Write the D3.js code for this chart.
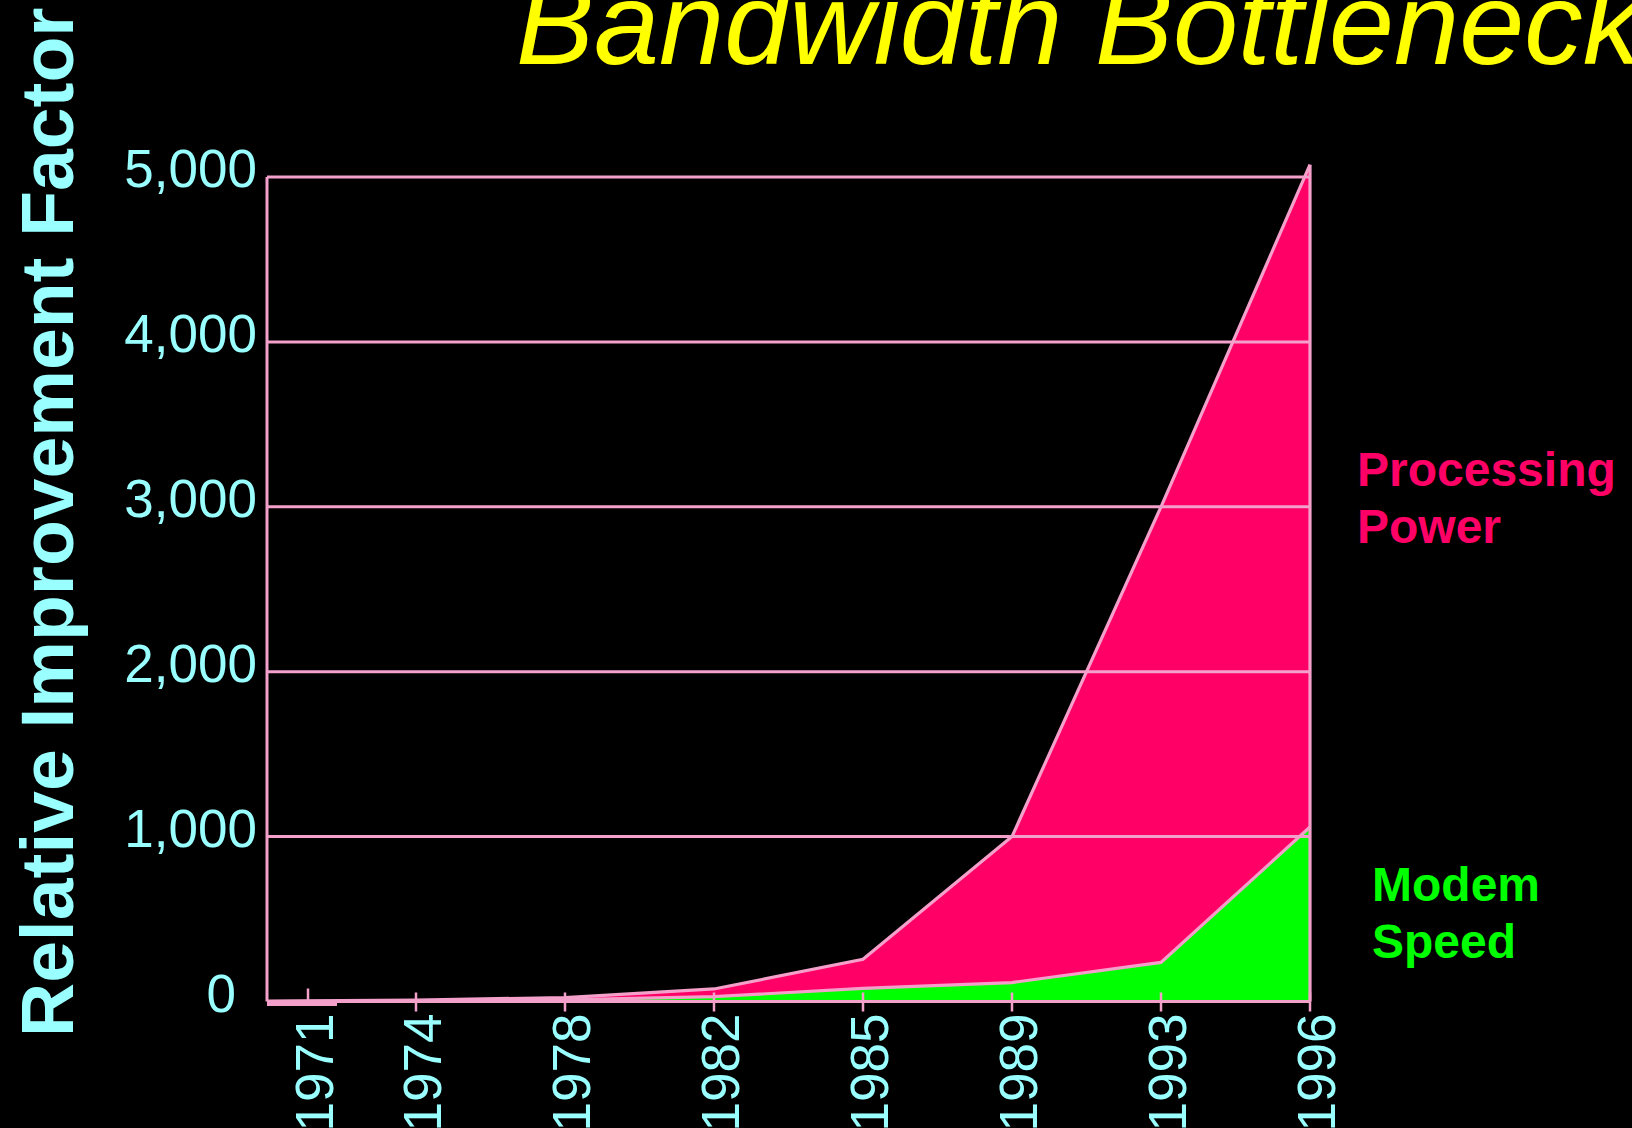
<!DOCTYPE html>
<html>
<head>
<meta charset="utf-8">
<script src="https://cdn.jsdelivr.net/npm/d3@7"></script>
<style>
  html, body { margin: 0; padding: 0; background: #000; }
  svg { display: block; }
  text { font-family: "Liberation Sans", Arial, sans-serif; }
</style>
</head>
<body>
<svg id="chart" width="1632" height="1128"></svg>
<script>
// Years on the category axis
const years = ["1971", "1974", "1978", "1982", "1985", "1989", "1993", "1996"];
// Relative improvement factor of processing power
const processingPower = [2, 9, 24, 76, 256, 1000, 3000, 5075];
// Relative improvement factor of modem speed
const modemSpeed = [0, 4, 10, 29, 80, 115, 237, 1058];
// Value axis ticks
const yTicks = [0, 1000, 2000, 3000, 4000, 5000];

const W = 1632, H = 1128;
const plot = { left: 267, right: 1310, top: 177, bottom: 1001.5 };

const PINK = "#FF0066";
const GREEN = "#00FF00";
const LINE = "#F3A0CB";
const CYAN = "#99FFFF";
const YELLOW = "#FFFF00";

const svg = d3.select("#chart");
svg.append("rect").attr("width", W).attr("height", H).attr("fill", "#000");

const x = d3.scalePoint().domain(years).range([plot.left, plot.right]).padding(0);
const y = d3.scaleLinear().domain([0, 5000]).range([plot.bottom, plot.top]);

const rowsPP = years.map((yr, i) => ({ year: yr, v: processingPower[i] }));
const rowsMS = years.map((yr, i) => ({ year: yr, v: modemSpeed[i] }));

const area = d3.area().x(d => x(d.year)).y0(y(0)).y1(d => y(d.v));
const line = d3.line().x(d => x(d.year)).y(d => y(d.v));

// Filled areas: processing power behind, modem speed in front
svg.append("path").datum(rowsPP).attr("d", area).attr("fill", PINK);
svg.append("path").datum(rowsMS).attr("d", area).attr("fill", GREEN);

// Horizontal gridlines
svg.append("g").selectAll("line").data(yTicks.filter(t => t > 0)).join("line")
  .attr("x1", plot.left).attr("x2", plot.right)
  .attr("y1", d => y(d)).attr("y2", d => y(d))
  .attr("stroke", LINE).attr("stroke-width", 3);

// Outlines of the two series, closed down the last category
[rowsPP, rowsMS].forEach(rows => {
  svg.append("path").datum(rows).attr("d", line)
    .attr("fill", "none").attr("stroke", LINE).attr("stroke-width", 3.2)
    .attr("stroke-linejoin", "miter");
});
const last = years[years.length - 1];
svg.append("line")
  .attr("x1", x(last)).attr("x2", x(last))
  .attr("y1", y(processingPower[processingPower.length - 1])).attr("y2", y(0))
  .attr("stroke", LINE).attr("stroke-width", 3.2);

// Axis lines
svg.append("line").attr("x1", plot.left).attr("x2", plot.left)
  .attr("y1", y(5000)).attr("y2", y(0)).attr("stroke", LINE).attr("stroke-width", 3);
svg.append("line").attr("x1", plot.left).attr("x2", plot.right)
  .attr("y1", y(0)).attr("y2", y(0)).attr("stroke", LINE).attr("stroke-width", 3.2);
// thick base segment under the first category
svg.append("line").attr("x1", x(years[0])).attr("x2", x(years[0]) + 70)
  .attr("y1", y(0) + 2).attr("y2", y(0) + 2).attr("stroke", LINE).attr("stroke-width", 5);

// Value labels (the zero label sits a little further left)
const fmt = d3.format(",");
svg.append("g").selectAll("text").data(yTicks).join("text")
  .attr("x", d => plot.left - (d === 0 ? 31 : 10)).attr("y", d => y(d) + 10)
  .attr("text-anchor", "end").attr("font-size", 53).attr("fill", CYAN)
  .text(d => fmt(d));

// Category ticks and labels; the first label sits inside the plot edge
const firstNudge = 41;
const xPos = (d, i) => x(d) + (i === 0 ? firstNudge : 0);
svg.append("g").selectAll("line").data(years).join("line")
  .attr("x1", xPos).attr("x2", xPos)
  .attr("y1", (d, i) => y(0) - (i === 0 ? 13 : 9))
  .attr("y2", (d, i) => y(0) + (i === 0 ? 0 : 10))
  .attr("stroke", LINE).attr("stroke-width", 2.5);
svg.append("g").selectAll("text").data(years).join("text")
  .attr("transform", (d, i) => `translate(${xPos(d, i)},${y(0) + 12}) rotate(-90)`)
  .attr("dy", 25)
  .attr("text-anchor", "end").attr("font-size", 53).attr("fill", CYAN)
  .text(d => d);

// Value axis title
svg.append("text")
  .attr("transform", "translate(73,1037) rotate(-90)")
  .attr("font-size", 75).attr("font-weight", "bold").attr("fill", CYAN)
  .text("Relative Improvement Factor");

// Chart title
svg.append("text")
  .attr("x", 516).attr("y", 64)
  .attr("font-size", 117).attr("font-style", "italic").attr("fill", YELLOW)
  .text("Bandwidth Bottleneck");

// Series labels
const seriesLabels = [
  { lines: ["Processing", "Power"], color: PINK, x: 1357, y: 486 },
  { lines: ["Modem", "Speed"], color: GREEN, x: 1372, y: 901 }
];
seriesLabels.forEach(s => {
  const t = svg.append("text").attr("x", s.x).attr("y", s.y)
    .attr("font-size", 48).attr("font-weight", "bold").attr("fill", s.color);
  s.lines.forEach((ln, i) => {
    t.append("tspan").attr("x", s.x).attr("dy", i === 0 ? 0 : 57).text(ln);
  });
});
</script>
</body>
</html>
